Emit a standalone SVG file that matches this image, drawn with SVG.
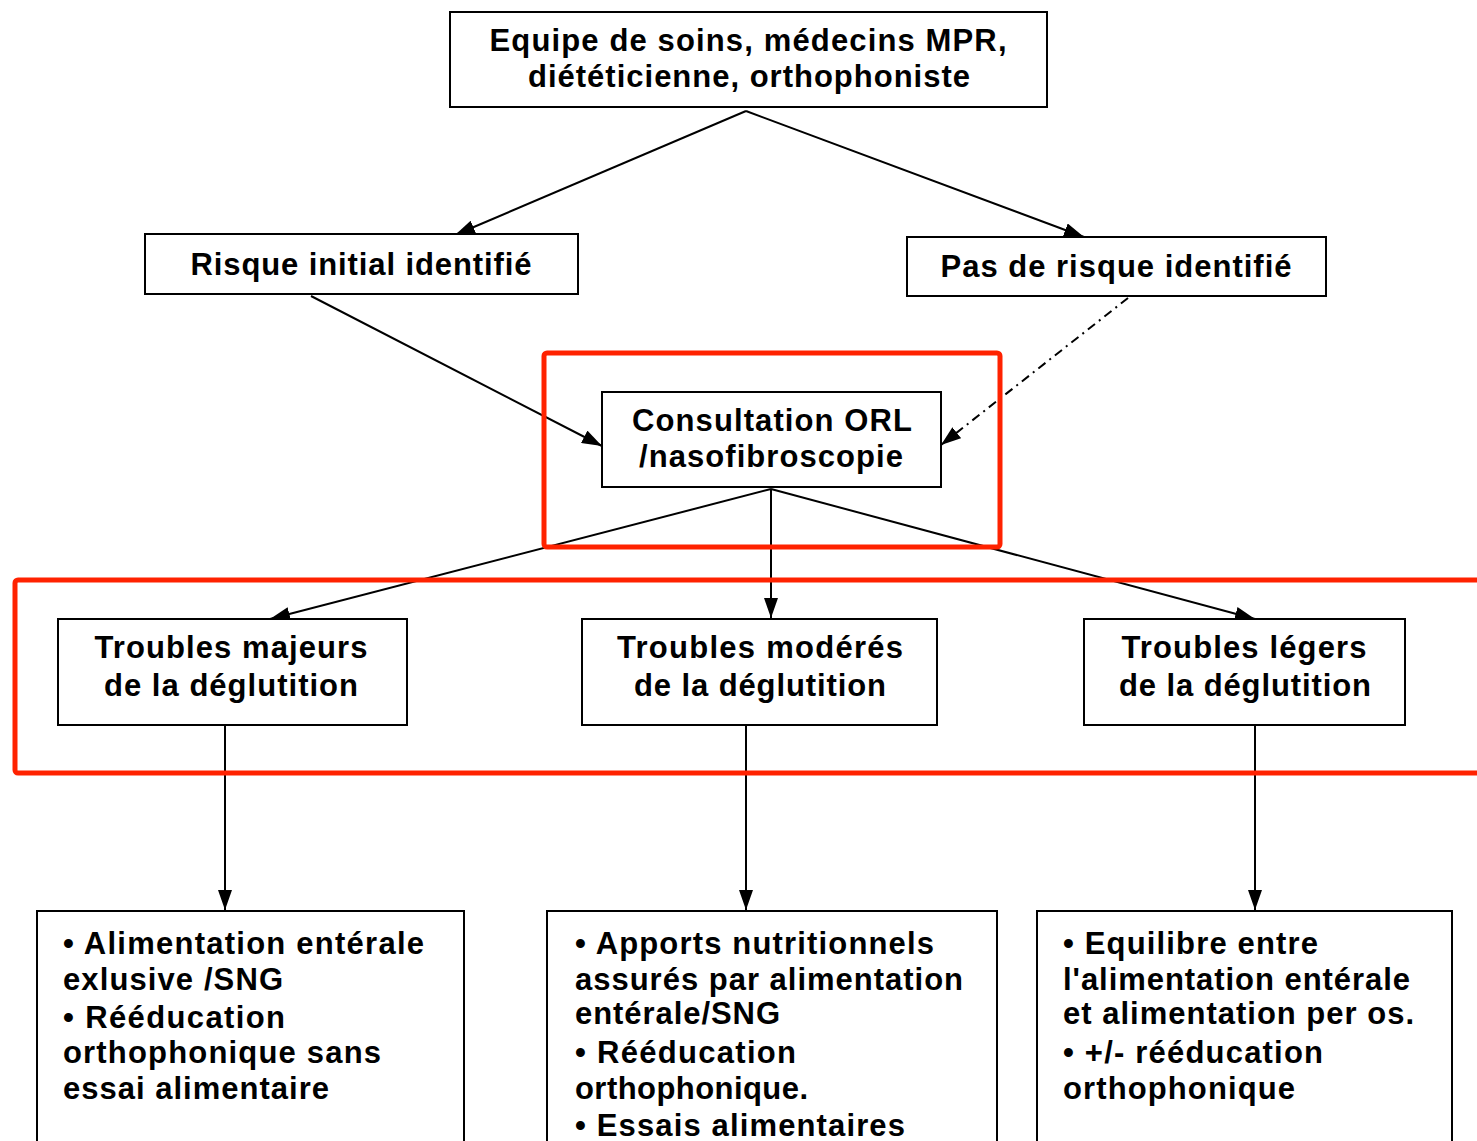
<svg xmlns="http://www.w3.org/2000/svg" width="1477" height="1141" viewBox="0 0 1477 1141">
<style>
.box{fill:#fff;stroke:#000;stroke-width:2}
.red{fill:none;stroke:#ff2200;stroke-width:5}
.t{font-family:"Liberation Sans",Arial,sans-serif;font-weight:700;fill:#000;font-size:31px}
.c{text-anchor:middle}
.ln{stroke:#000;stroke-width:2;fill:none}
</style>
<defs>
<marker id="ah" viewBox="0 0 20 14" refX="20" refY="7" markerWidth="20" markerHeight="14" markerUnits="userSpaceOnUse" orient="auto">
<path d="M0,0 L20,7 L0,14 Z" fill="#000"/>
</marker>
</defs>
<rect width="1477" height="1141" fill="#fff"/>
<g id="connectors">
<line class="ln" x1="746" y1="111" x2="455" y2="235" marker-end="url(#ah)"/>
<line class="ln" x1="746" y1="111" x2="1084" y2="237" marker-end="url(#ah)"/>
<line class="ln" x1="311" y1="296" x2="602" y2="446" marker-end="url(#ah)"/>
<line class="ln" x1="1128" y1="298" x2="941" y2="445" stroke-dasharray="9,5,2,5" marker-end="url(#ah)"/>
<line class="ln" x1="771" y1="489" x2="270" y2="619" marker-end="url(#ah)"/>
<line class="ln" x1="771" y1="489" x2="771" y2="618" marker-end="url(#ah)"/>
<line class="ln" x1="771" y1="489" x2="1255" y2="619" marker-end="url(#ah)"/>
<line class="ln" x1="225" y1="726" x2="225" y2="910" marker-end="url(#ah)"/>
<line class="ln" x1="746" y1="726" x2="746" y2="910" marker-end="url(#ah)"/>
<line class="ln" x1="1255" y1="726" x2="1255" y2="910" marker-end="url(#ah)"/>
</g>
<g id="n-top">
<rect class="box" x="450" y="12" width="597" height="95"/>
<text class="t c" x="748" y="51" font-size="29" textLength="517" lengthAdjust="spacing">Equipe de soins, médecins MPR,</text>
<text class="t c" x="749" y="87" font-size="29" textLength="442" lengthAdjust="spacing">diététicienne, orthophoniste</text>
</g>
<g id="n-risque">
<rect class="box" x="145" y="234" width="433" height="60"/>
<text class="t c" x="361" y="275" textLength="341" lengthAdjust="spacing">Risque initial identifié</text>
</g>
<g id="n-pasrisque">
<rect class="box" x="907" y="237" width="419" height="59"/>
<text class="t c" x="1116" y="277" textLength="351" lengthAdjust="spacing">Pas de risque identifié</text>
</g>
<g id="n-consult">
<rect class="box" x="602" y="392" width="339" height="95"/>
<text class="t c" x="772" y="431" textLength="280" lengthAdjust="spacing">Consultation ORL</text>
<text class="t c" x="771" y="467" textLength="264" lengthAdjust="spacing">/nasofibroscopie</text>
</g>
<g id="n-majeurs">
<rect class="box" x="58" y="619" width="349" height="106"/>
<text class="t c" x="231" y="658" textLength="273" lengthAdjust="spacing">Troubles majeurs</text>
<text class="t c" x="231" y="696" textLength="254" lengthAdjust="spacing">de la déglutition</text>
</g>
<g id="n-moderes">
<rect class="box" x="582" y="619" width="355" height="106"/>
<text class="t c" x="760" y="658" textLength="286" lengthAdjust="spacing">Troubles modérés</text>
<text class="t c" x="760" y="696" textLength="252" lengthAdjust="spacing">de la déglutition</text>
</g>
<g id="n-legers">
<rect class="box" x="1084" y="619" width="321" height="106"/>
<text class="t c" x="1244" y="658" textLength="245" lengthAdjust="spacing">Troubles légers</text>
<text class="t c" x="1245" y="696" textLength="252" lengthAdjust="spacing">de la déglutition</text>
</g>
<g id="n-bas-gauche">
<rect class="box" x="37" y="911" width="427" height="250"/>
<text class="t" x="63" y="954" textLength="361" lengthAdjust="spacing">• Alimentation entérale</text>
<text class="t" x="63" y="990" textLength="220" lengthAdjust="spacing">exlusive /SNG</text>
<text class="t" x="63" y="1028" textLength="222" lengthAdjust="spacing">• Rééducation</text>
<text class="t" x="63" y="1063" textLength="318" lengthAdjust="spacing">orthophonique sans</text>
<text class="t" x="63" y="1099" textLength="266" lengthAdjust="spacing">essai alimentaire</text>
</g>
<g id="n-bas-milieu">
<rect class="box" x="547" y="911" width="450" height="250"/>
<text class="t" x="575" y="954" textLength="359" lengthAdjust="spacing">• Apports nutritionnels</text>
<text class="t" x="575" y="990" textLength="388" lengthAdjust="spacing">assurés par alimentation</text>
<text class="t" x="575" y="1024" textLength="205" lengthAdjust="spacing">entérale/SNG</text>
<text class="t" x="575" y="1063" textLength="221" lengthAdjust="spacing">• Rééducation</text>
<text class="t" x="575" y="1099" textLength="233" lengthAdjust="spacing">orthophonique.</text>
<text class="t" x="575" y="1136" textLength="330" lengthAdjust="spacing">• Essais alimentaires</text>
</g>
<g id="n-bas-droite">
<rect class="box" x="1037" y="911" width="415" height="250"/>
<text class="t" x="1063" y="954" textLength="255" lengthAdjust="spacing">• Equilibre entre</text>
<text class="t" x="1063" y="990" textLength="347" lengthAdjust="spacing">l'alimentation entérale</text>
<text class="t" x="1063" y="1024" textLength="351" lengthAdjust="spacing">et alimentation per os.</text>
<text class="t" x="1063" y="1063" textLength="260" lengthAdjust="spacing">• +/- rééducation</text>
<text class="t" x="1063" y="1099" textLength="232" lengthAdjust="spacing">orthophonique</text>
</g>
<g id="highlights">
<rect class="red" x="544" y="353" width="456" height="194" rx="3"/>
<rect class="red" x="15" y="580" width="1480" height="193" rx="3" stroke-width="4"/>
</g>
</svg>
